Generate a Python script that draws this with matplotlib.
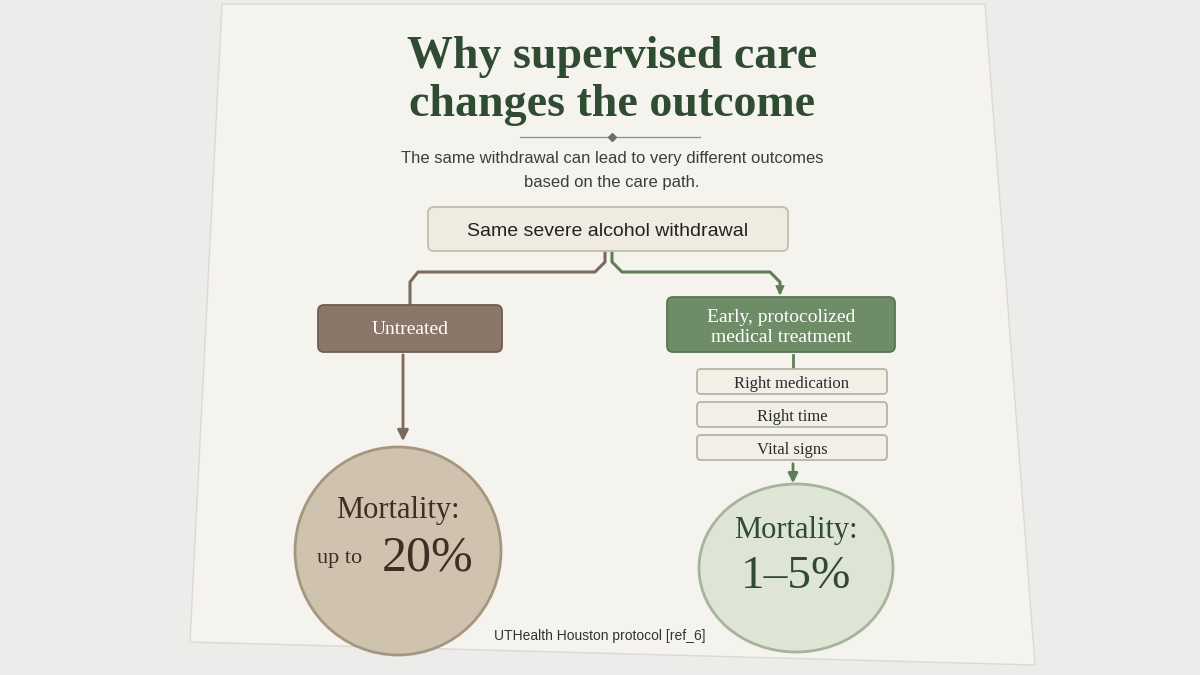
import matplotlib
matplotlib.use("Agg")
import matplotlib.pyplot as plt
from matplotlib.patches import FancyBboxPatch, Polygon, Ellipse, FancyArrowPatch

title_lines = ["Why supervised care", "changes the outcome"]
subtitle_lines = ["The same withdrawal can lead to very different outcomes", "based on the care path."]
root_label = "Same severe alcohol withdrawal"
left_label = "Untreated"
right_label = ["Early, protocolized", "medical treatment"]
steps = ["Right medication", "Right time", "Vital signs"]
left_outcome = ("Mortality:", "up to", "20%")
right_outcome = ("Mortality:", "1–5%")
footer = "UTHealth Houston protocol [ref_6]"

GREEN = "#2f4b32"
SERIF = ["Liberation Serif", "DejaVu Serif"]
SANS = ["Liberation Sans", "DejaVu Sans"]

fig = plt.figure(figsize=(12, 6.75), dpi=100)
fig.patch.set_facecolor("#ececea")
ax = fig.add_axes([0, 0, 1, 1])
ax.set_xlim(0, 1200); ax.set_ylim(675, 0); ax.axis("off")

ax.add_patch(Polygon([(222, 4), (985, 4), (1035, 665), (190, 642)], closed=True,
                     facecolor="#f5f3ee", edgecolor="#dcd9d2", lw=1, zorder=0))

for i, t in enumerate(title_lines):
    ax.text(612, 57 + i * 48, t, ha="center", va="center", fontsize=33,
            family=SERIF, color=GREEN, fontweight="semibold")
ax.plot([520, 700], [137, 137], color="#8a8f85", lw=0.9)
ax.plot([612], [137], marker="D", ms=4, color="#6b6f66")
for i, t in enumerate(subtitle_lines):
    ax.text(612, 158 + i * 24, t, ha="center", va="center", fontsize=12, family=SANS, color="#3d3d3d")

def box(x0, y0, x1, y1, fc, ec, r=6):
    ax.add_patch(FancyBboxPatch((x0, y0), x1 - x0, y1 - y0,
                                boxstyle=f"round,pad=0,rounding_size={r}",
                                facecolor=fc, edgecolor=ec, lw=1.3, zorder=3))

box(428, 207, 788, 251, "#efebe1", "#c4bcae")
ax.text(608, 229, root_label, ha="center", va="center_baseline", fontsize=14, family=SANS, color="#222", zorder=4)

brown = "#7c6a5c"; green = "#5f7d58"
ax.plot([605, 605, 595, 418, 410, 410], [251, 262, 272, 272, 282, 305], color=brown, lw=2.2, zorder=2)
ax.plot([612, 612, 622, 770, 780, 780], [251, 262, 272, 272, 282, 292], color=green, lw=2.2, zorder=2)
ax.add_patch(FancyArrowPatch((780, 285), (780, 298), arrowstyle="-|>", mutation_scale=14, color=green, zorder=2))

box(318, 305, 502, 352, "#8b7769", "#6e5e52")
ax.text(410, 328, left_label, ha="center", va="center_baseline", fontsize=14, family=SERIF, color="white", zorder=4)
box(667, 297, 895, 352, "#6f8c68", "#587452")
for i, t in enumerate(right_label):
    ax.text(781, 315 + i * 20, t, ha="center", va="center_baseline", fontsize=14, family=SERIF,
            color="white", zorder=4)

ax.add_patch(FancyArrowPatch((403, 352), (403, 444), arrowstyle="-|>", mutation_scale=16, color=brown, lw=2, zorder=2))

for i, s in enumerate(steps):
    y0 = 369 + i * 33
    box(697, y0, 887, y0 + 25, "#f1efe6", "#b3b7a4", r=4)
    ax.text(792, y0 + 13, s, ha="center", va="center_baseline", fontsize=12, family=SERIF, color="#2a2a2a", zorder=4)
ax.plot([793, 793], [355, 369], color=green, lw=2, zorder=2)
ax.add_patch(FancyArrowPatch((793, 461), (793, 486), arrowstyle="-|>", mutation_scale=14, color=green, lw=2, zorder=2))

ax.add_patch(Ellipse((398, 551), 206, 208, facecolor="#cfc2ae", edgecolor="#a5967f", lw=2, zorder=3))
ax.text(398, 507, left_outcome[0], ha="center", va="center_baseline", fontsize=22, family=SERIF, color="#3b2f26", zorder=4)
ax.text(340, 556, left_outcome[1], ha="center", va="center_baseline", fontsize=16, family=SERIF, color="#3b2f26", zorder=4)
ax.text(428, 553, left_outcome[2], ha="center", va="center_baseline", fontsize=36, family=SERIF, color="#3b2f26", zorder=4)

ax.add_patch(Ellipse((796, 568), 194, 168, facecolor="#dfe5d5", edgecolor="#a7b39b", lw=2, zorder=3))
ax.text(796, 527, right_outcome[0], ha="center", va="center_baseline", fontsize=22, family=SERIF, color=GREEN, zorder=4)
ax.text(796, 572, right_outcome[1], ha="center", va="center_baseline", fontsize=34, family=SERIF, color=GREEN, zorder=4)

ax.text(600, 636, footer, ha="center", va="center", fontsize=10, family=SANS, color="#333")

fig.savefig("out.png", dpi=100)
